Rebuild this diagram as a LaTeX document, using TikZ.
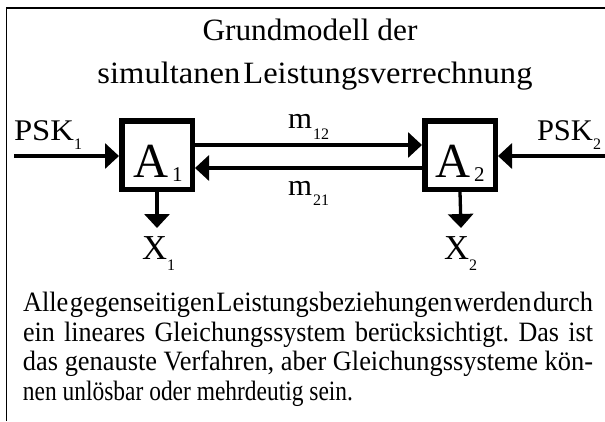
\documentclass[tikz,border=0pt]{standalone}
\usepackage{fontspec}
\usepackage{graphicx}
\setmainfont{Liberation Serif}
\usetikzlibrary{arrows.meta}
\newcommand{\fsz}[1]{\fontsize{#1}{#1}\selectfont}
\newcommand{\mysub}[3]{\raisebox{-#2pt}{\fsz{#1}#3}}
\newcommand{\fitw}[2]{\resizebox{#1}{\height}{#2}}
\begin{document}
\begin{tikzpicture}[x=1pt,y=-1pt,
  lbl/.style={inner sep=0pt, outer sep=0pt, anchor=base west},
  ttl/.style={inner sep=0pt, outer sep=0pt, anchor=base},
  unit/.style={draw, line width=5.5pt, minimum width=70.5pt, minimum height=68.5pt, inner sep=0pt},
  flow/.style={line width=3.3pt, -{Triangle[length=14pt,width=25pt]}},
  frameline/.style={line width=1.5pt}]
\useasboundingbox (0,0) rectangle (605,421);
\draw[frameline] (6.7,421) -- (6.7,8.2) -- (605,8.2);

% title
\node[ttl] (t1) at (310,40) {\fitw{215pt}{\fsz{31}Grundmodell der}};
\node[ttl] (t2) at (315,83) {\fitw{435pt}{\fsz{31}simultanen\hspace{3pt}Leistungsverrechnung}};

% units
\node[unit] (a1) at (157,155) {};
\node[unit] (a2) at (460,155) {};
\node[lbl] (a1t) at (133,177) {\fitw{35pt}{\fsz{49}A}\kern4pt\mysub{21}{4.5}{1}};
\node[lbl] (a2t) at (435,177) {\fitw{35pt}{\fsz{49}A}\kern4pt\mysub{21}{4.5}{2}};

% connectors
\coordinate (p1) at (14,156);
\coordinate (p2) at (605,156);
\coordinate (x1a) at (157,228);
\coordinate (x2a) at (461,228);
\draw[flow] (p1) -- (p1 -| a1.west);
\draw[flow] (p2) -- (p2 -| a2.east);
\draw[flow] ([yshift=10pt]a1.east) -- ([yshift=10pt]a2.west);
\draw[flow] ([yshift=-13pt]a2.west) -- ([yshift=-13pt]a1.east);
\draw[flow] (a1.south) -- (x1a);
\draw[flow] (a2.south) -- (x2a);

% labels
\node[lbl] (psk1) at (14,140) {\fitw{60pt}{\fsz{30}PSK}\mysub{16}{9}{1}};
\node[lbl] (psk2) at (537,140) {\fitw{56pt}{\fsz{30}PSK}\mysub{16}{9}{2}};
\node[lbl] (m12) at (288,128) {\fitw{24pt}{\fsz{30}m}\kern1pt\mysub{16}{11}{12}};
\node[lbl] (m21) at (288,195) {\fitw{24pt}{\fsz{30}m}\kern1pt\mysub{16}{10}{21}};
\node[lbl] (x1) at (142,259) {\fitw{25pt}{\fsz{35}X}\mysub{16}{11}{1}};
\node[lbl] (x2) at (444,259) {\fitw{25pt}{\fsz{35}X}\mysub{16}{11}{2}};

% body text
\node[lbl] (b1) at (23,311) {\fitw{570pt}{\fsz{28}\spaceskip=1.5pt\relax Alle gegenseitigen Leistungsbeziehungen werden durch}};
\node[lbl] (b2) at (23,341) {\fitw{570pt}{\fsz{28}\frenchspacing\spaceskip=10pt\relax ein lineares Gleichungssystem berücksichtigt. Das ist}};
\node[lbl] (b3) at (23,370.5) {\fitw{570pt}{\fsz{28}\frenchspacing\spaceskip=7pt\relax das genauste Verfahren, aber Gleichungssysteme kön-}};
\node[lbl] (b4) at (23,400) {\fitw{330pt}{\fsz{28}\frenchspacing\spaceskip=7pt\relax nen unlösbar oder mehrdeutig sein.}};
\end{tikzpicture}
\end{document}
